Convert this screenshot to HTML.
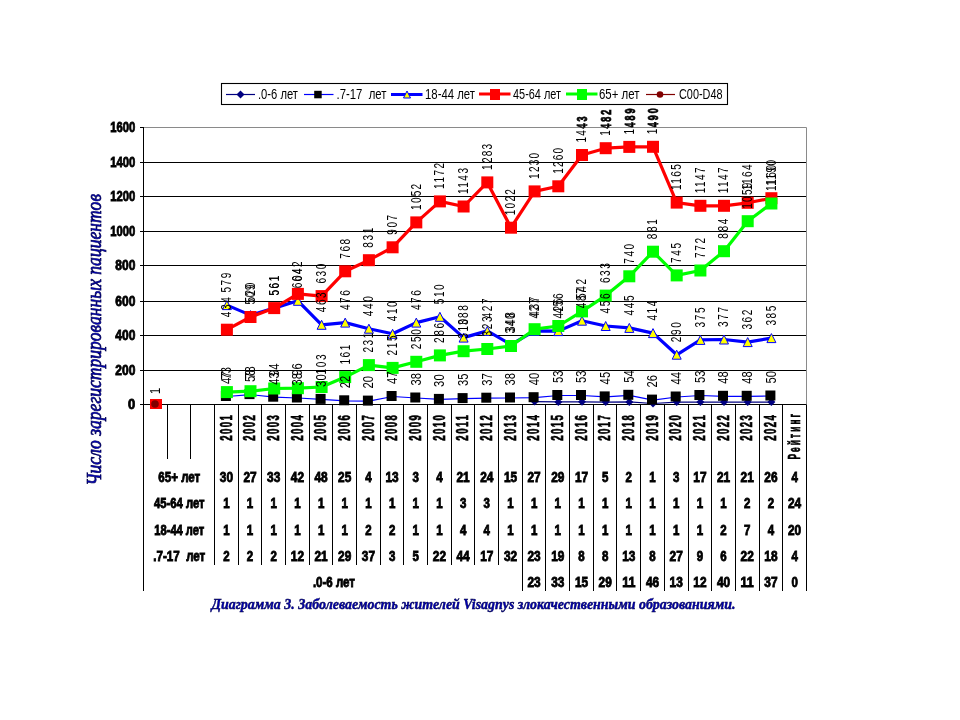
<!DOCTYPE html>
<html lang="ru"><head><meta charset="utf-8"><title>Диаграмма 3</title>
<style>html,body{margin:0;padding:0;background:#fff;width:960px;height:720px;overflow:hidden}svg{display:block}</style>
</head><body>
<svg width="960" height="720" viewBox="0 0 960 720">
<defs>
<clipPath id="plotclip"><rect x="0" y="127.5" width="960" height="600"/></clipPath>
<clipPath id="outclip"><rect x="0" y="0" width="960" height="127.5"/></clipPath>
</defs>
<rect width="960" height="720" fill="#fff"/>
<line x1="140" y1="404.5" x2="806.5" y2="404.5" stroke="#000" stroke-width="1"/>
<line x1="140" y1="370.5" x2="806.5" y2="370.5" stroke="#000" stroke-width="1"/>
<line x1="140" y1="335.5" x2="806.5" y2="335.5" stroke="#000" stroke-width="1"/>
<line x1="140" y1="301.5" x2="806.5" y2="301.5" stroke="#000" stroke-width="1"/>
<line x1="140" y1="265.5" x2="806.5" y2="265.5" stroke="#000" stroke-width="1"/>
<line x1="140" y1="231.5" x2="806.5" y2="231.5" stroke="#000" stroke-width="1"/>
<line x1="140" y1="196.5" x2="806.5" y2="196.5" stroke="#000" stroke-width="1"/>
<line x1="140" y1="162.5" x2="806.5" y2="162.5" stroke="#000" stroke-width="1"/>
<line x1="143" y1="127.5" x2="806.5" y2="127.5" stroke="#8a8a8a" stroke-width="1"/>
<line x1="140" y1="127.5" x2="143" y2="127.5" stroke="#000" stroke-width="1"/>
<line x1="806.5" y1="127.5" x2="806.5" y2="404" stroke="#8a8a8a" stroke-width="1"/>
<line x1="143.5" y1="127" x2="143.5" y2="591" stroke="#000" stroke-width="1"/>
<line x1="167.5" y1="404.5" x2="167.5" y2="459" stroke="#000" stroke-width="1"/>
<line x1="190.5" y1="404.5" x2="190.5" y2="459" stroke="#000" stroke-width="1"/>
<line x1="214.5" y1="404.5" x2="214.5" y2="565" stroke="#000" stroke-width="1"/>
<line x1="238.5" y1="404.5" x2="238.5" y2="565" stroke="#000" stroke-width="1"/>
<line x1="261.5" y1="404.5" x2="261.5" y2="565" stroke="#000" stroke-width="1"/>
<line x1="285.5" y1="404.5" x2="285.5" y2="565" stroke="#000" stroke-width="1"/>
<line x1="309.5" y1="404.5" x2="309.5" y2="565" stroke="#000" stroke-width="1"/>
<line x1="332.5" y1="404.5" x2="332.5" y2="565" stroke="#000" stroke-width="1"/>
<line x1="356.5" y1="404.5" x2="356.5" y2="565" stroke="#000" stroke-width="1"/>
<line x1="380.5" y1="404.5" x2="380.5" y2="565" stroke="#000" stroke-width="1"/>
<line x1="403.5" y1="404.5" x2="403.5" y2="565" stroke="#000" stroke-width="1"/>
<line x1="427.5" y1="404.5" x2="427.5" y2="565" stroke="#000" stroke-width="1"/>
<line x1="451.5" y1="404.5" x2="451.5" y2="565" stroke="#000" stroke-width="1"/>
<line x1="474.5" y1="404.5" x2="474.5" y2="565" stroke="#000" stroke-width="1"/>
<line x1="498.5" y1="404.5" x2="498.5" y2="565" stroke="#000" stroke-width="1"/>
<line x1="522.5" y1="404.5" x2="522.5" y2="591" stroke="#000" stroke-width="1"/>
<line x1="545.5" y1="404.5" x2="545.5" y2="591" stroke="#000" stroke-width="1"/>
<line x1="569.5" y1="404.5" x2="569.5" y2="591" stroke="#000" stroke-width="1"/>
<line x1="593.5" y1="404.5" x2="593.5" y2="591" stroke="#000" stroke-width="1"/>
<line x1="616.5" y1="404.5" x2="616.5" y2="591" stroke="#000" stroke-width="1"/>
<line x1="640.5" y1="404.5" x2="640.5" y2="591" stroke="#000" stroke-width="1"/>
<line x1="664.5" y1="404.5" x2="664.5" y2="591" stroke="#000" stroke-width="1"/>
<line x1="688.5" y1="404.5" x2="688.5" y2="591" stroke="#000" stroke-width="1"/>
<line x1="711.5" y1="404.5" x2="711.5" y2="591" stroke="#000" stroke-width="1"/>
<line x1="735.5" y1="404.5" x2="735.5" y2="591" stroke="#000" stroke-width="1"/>
<line x1="759.5" y1="404.5" x2="759.5" y2="591" stroke="#000" stroke-width="1"/>
<line x1="782.5" y1="404.5" x2="782.5" y2="591" stroke="#000" stroke-width="1"/>
<line x1="806.5" y1="404.5" x2="806.5" y2="591" stroke="#000" stroke-width="1"/>
<text x="135.3" y="408.8" text-anchor="end" font-family="'Liberation Sans', Arial, sans-serif" font-weight="bold" font-size="14" stroke="#000" stroke-width="0.85" textLength="7.2" lengthAdjust="spacingAndGlyphs">0</text>
<text x="135.3" y="374.8" text-anchor="end" font-family="'Liberation Sans', Arial, sans-serif" font-weight="bold" font-size="14" stroke="#000" stroke-width="0.85" textLength="20" lengthAdjust="spacingAndGlyphs">200</text>
<text x="135.3" y="339.8" text-anchor="end" font-family="'Liberation Sans', Arial, sans-serif" font-weight="bold" font-size="14" stroke="#000" stroke-width="0.85" textLength="20" lengthAdjust="spacingAndGlyphs">400</text>
<text x="135.3" y="305.8" text-anchor="end" font-family="'Liberation Sans', Arial, sans-serif" font-weight="bold" font-size="14" stroke="#000" stroke-width="0.85" textLength="20" lengthAdjust="spacingAndGlyphs">600</text>
<text x="135.3" y="269.8" text-anchor="end" font-family="'Liberation Sans', Arial, sans-serif" font-weight="bold" font-size="14" stroke="#000" stroke-width="0.85" textLength="20" lengthAdjust="spacingAndGlyphs">800</text>
<text x="135.3" y="235.8" text-anchor="end" font-family="'Liberation Sans', Arial, sans-serif" font-weight="bold" font-size="14" stroke="#000" stroke-width="0.85" textLength="25" lengthAdjust="spacingAndGlyphs">1000</text>
<text x="135.3" y="200.8" text-anchor="end" font-family="'Liberation Sans', Arial, sans-serif" font-weight="bold" font-size="14" stroke="#000" stroke-width="0.85" textLength="25" lengthAdjust="spacingAndGlyphs">1200</text>
<text x="135.3" y="166.8" text-anchor="end" font-family="'Liberation Sans', Arial, sans-serif" font-weight="bold" font-size="14" stroke="#000" stroke-width="0.85" textLength="25" lengthAdjust="spacingAndGlyphs">1400</text>
<text x="135.3" y="131.8" text-anchor="end" font-family="'Liberation Sans', Arial, sans-serif" font-weight="bold" font-size="14" stroke="#000" stroke-width="0.85" textLength="25" lengthAdjust="spacingAndGlyphs">1600</text>
<text transform="translate(100.5,485.5) rotate(-90)" font-family="'Liberation Serif', 'Times New Roman', serif" font-style="italic" font-size="20.5" fill="#0000c0" stroke="#000050" stroke-width="0.7" textLength="291.5" lengthAdjust="spacingAndGlyphs">Число зарегистрированных пациентов</text>
<polyline points="534.6,401.6 558.3,401.9 582.0,401.8 605.7,402.1 629.3,401.9 653.0,403.5 676.7,402.1 700.4,402.1 724.0,402.1 747.7,402.1 771.4,402.1" fill="none" stroke="#000080" stroke-width="1.2" stroke-linejoin="round"/>
<polygon points="534.6,397.6 538.6,401.6 534.6,405.6 530.6,401.6" fill="#000080"/>
<polygon points="558.3,397.9 562.3,401.9 558.3,405.9 554.3,401.9" fill="#000080"/>
<polygon points="582.0,397.8 586.0,401.8 582.0,405.8 578.0,401.8" fill="#000080"/>
<polygon points="605.7,398.1 609.7,402.1 605.7,406.1 601.7,402.1" fill="#000080"/>
<polygon points="629.3,397.9 633.3,401.9 629.3,405.9 625.3,401.9" fill="#000080"/>
<polygon points="653.0,399.5 657.0,403.5 653.0,407.5 649.0,403.5" fill="#000080"/>
<polygon points="676.7,398.1 680.7,402.1 676.7,406.1 672.7,402.1" fill="#000080"/>
<polygon points="700.4,398.1 704.4,402.1 700.4,406.1 696.4,402.1" fill="#000080"/>
<polygon points="724.0,398.1 728.0,402.1 724.0,406.1 720.0,402.1" fill="#000080"/>
<polygon points="747.7,398.1 751.7,402.1 747.7,406.1 743.7,402.1" fill="#000080"/>
<polygon points="771.4,398.1 775.4,402.1 771.4,406.1 767.4,402.1" fill="#000080"/>
<polyline points="226.9,396.5 250.5,394.6 274.2,397.2 297.9,398.0 321.6,399.4 345.2,400.8 368.9,401.1 392.6,396.5 416.3,398.0 439.9,399.4 463.6,398.6 487.3,398.2 511.0,398.0 534.6,397.7 558.3,395.5 582.0,395.5 605.7,396.9 629.3,395.3 653.0,400.1 676.7,397.0 700.4,395.5 724.0,396.3 747.7,396.3 771.4,396.0" fill="none" stroke="#0000ff" stroke-width="1.2" stroke-linejoin="round"/>
<rect x="220.9" y="391.0" width="10" height="10" fill="#000"/>
<rect x="244.5" y="389.1" width="10" height="10" fill="#000"/>
<rect x="268.2" y="391.7" width="10" height="10" fill="#000"/>
<rect x="291.9" y="392.5" width="10" height="10" fill="#000"/>
<rect x="315.6" y="393.9" width="10" height="10" fill="#000"/>
<rect x="339.2" y="395.3" width="10" height="10" fill="#000"/>
<rect x="362.9" y="395.6" width="10" height="10" fill="#000"/>
<rect x="386.6" y="391.0" width="10" height="10" fill="#000"/>
<rect x="410.3" y="392.5" width="10" height="10" fill="#000"/>
<rect x="433.9" y="393.9" width="10" height="10" fill="#000"/>
<rect x="457.6" y="393.1" width="10" height="10" fill="#000"/>
<rect x="481.3" y="392.7" width="10" height="10" fill="#000"/>
<rect x="505.0" y="392.5" width="10" height="10" fill="#000"/>
<rect x="528.6" y="392.2" width="10" height="10" fill="#000"/>
<rect x="552.3" y="390.0" width="10" height="10" fill="#000"/>
<rect x="576.0" y="390.0" width="10" height="10" fill="#000"/>
<rect x="599.7" y="391.4" width="10" height="10" fill="#000"/>
<rect x="623.3" y="389.8" width="10" height="10" fill="#000"/>
<rect x="647.0" y="394.6" width="10" height="10" fill="#000"/>
<rect x="670.7" y="391.5" width="10" height="10" fill="#000"/>
<rect x="694.4" y="390.0" width="10" height="10" fill="#000"/>
<rect x="718.0" y="390.8" width="10" height="10" fill="#000"/>
<rect x="741.7" y="390.8" width="10" height="10" fill="#000"/>
<rect x="765.4" y="390.5" width="10" height="10" fill="#000"/>
<polyline points="226.9,305.1 250.5,315.1 274.2,308.1 297.9,300.8 321.6,324.8 345.2,322.6 368.9,328.7 392.6,333.8 416.3,322.6 439.9,316.8 463.6,337.6 487.3,330.9 511.0,344.6 534.6,330.9 558.3,331.1 582.0,320.7 605.7,326.0 629.3,327.9 653.0,333.1 676.7,354.8 700.4,339.9 724.0,339.5 747.7,342.1 771.4,338.1" fill="none" stroke="#0000ff" stroke-width="3.2" stroke-linejoin="round"/>
<polygon points="226.9,300.6 231.4,309.6 222.4,309.6" fill="#ffff00" stroke="#0000ff" stroke-width="1"/>
<polygon points="250.5,310.6 255.0,319.6 246.0,319.6" fill="#ffff00" stroke="#0000ff" stroke-width="1"/>
<polygon points="274.2,303.6 278.7,312.6 269.7,312.6" fill="#ffff00" stroke="#0000ff" stroke-width="1"/>
<polygon points="297.9,296.3 302.4,305.3 293.4,305.3" fill="#ffff00" stroke="#0000ff" stroke-width="1"/>
<polygon points="321.6,320.3 326.1,329.3 317.1,329.3" fill="#ffff00" stroke="#0000ff" stroke-width="1"/>
<polygon points="345.2,318.1 349.7,327.1 340.7,327.1" fill="#ffff00" stroke="#0000ff" stroke-width="1"/>
<polygon points="368.9,324.2 373.4,333.2 364.4,333.2" fill="#ffff00" stroke="#0000ff" stroke-width="1"/>
<polygon points="392.6,329.3 397.1,338.3 388.1,338.3" fill="#ffff00" stroke="#0000ff" stroke-width="1"/>
<polygon points="416.3,318.1 420.8,327.1 411.8,327.1" fill="#ffff00" stroke="#0000ff" stroke-width="1"/>
<polygon points="439.9,312.3 444.4,321.3 435.4,321.3" fill="#ffff00" stroke="#0000ff" stroke-width="1"/>
<polygon points="463.6,333.1 468.1,342.1 459.1,342.1" fill="#ffff00" stroke="#0000ff" stroke-width="1"/>
<polygon points="487.3,326.4 491.8,335.4 482.8,335.4" fill="#ffff00" stroke="#0000ff" stroke-width="1"/>
<polygon points="511.0,340.1 515.5,349.1 506.5,349.1" fill="#ffff00" stroke="#0000ff" stroke-width="1"/>
<polygon points="534.6,326.4 539.1,335.4 530.1,335.4" fill="#ffff00" stroke="#0000ff" stroke-width="1"/>
<polygon points="558.3,326.6 562.8,335.6 553.8,335.6" fill="#ffff00" stroke="#0000ff" stroke-width="1"/>
<polygon points="582.0,316.2 586.5,325.2 577.5,325.2" fill="#ffff00" stroke="#0000ff" stroke-width="1"/>
<polygon points="605.7,321.5 610.2,330.5 601.2,330.5" fill="#ffff00" stroke="#0000ff" stroke-width="1"/>
<polygon points="629.3,323.4 633.8,332.4 624.8,332.4" fill="#ffff00" stroke="#0000ff" stroke-width="1"/>
<polygon points="653.0,328.6 657.5,337.6 648.5,337.6" fill="#ffff00" stroke="#0000ff" stroke-width="1"/>
<polygon points="676.7,350.2 681.2,359.2 672.2,359.2" fill="#ffff00" stroke="#0000ff" stroke-width="1"/>
<polygon points="700.4,335.4 704.9,344.4 695.9,344.4" fill="#ffff00" stroke="#0000ff" stroke-width="1"/>
<polygon points="724.0,335.0 728.5,344.0 719.5,344.0" fill="#ffff00" stroke="#0000ff" stroke-width="1"/>
<polygon points="747.7,337.6 752.2,346.6 743.2,346.6" fill="#ffff00" stroke="#0000ff" stroke-width="1"/>
<polygon points="771.4,333.6 775.9,342.6 766.9,342.6" fill="#ffff00" stroke="#0000ff" stroke-width="1"/>
<polyline points="226.9,329.7 250.5,317.0 274.2,308.1 297.9,293.9 321.6,296.1 345.2,271.3 368.9,260.2 392.6,247.3 416.3,222.4 439.9,201.4 463.6,206.5 487.3,182.4 511.0,227.7 534.6,191.4 558.3,186.3 582.0,155.0 605.7,148.2 629.3,146.9 653.0,146.8 676.7,202.6 700.4,205.8 724.0,205.8 747.7,202.8 771.4,198.2" fill="none" stroke="#ff0000" stroke-width="3.2" stroke-linejoin="round"/>
<rect x="220.9" y="323.7" width="12" height="12" fill="#ff0000"/>
<rect x="244.5" y="311.0" width="12" height="12" fill="#ff0000"/>
<rect x="268.2" y="302.1" width="12" height="12" fill="#ff0000"/>
<rect x="291.9" y="287.9" width="12" height="12" fill="#ff0000"/>
<rect x="315.6" y="290.1" width="12" height="12" fill="#ff0000"/>
<rect x="339.2" y="265.3" width="12" height="12" fill="#ff0000"/>
<rect x="362.9" y="254.2" width="12" height="12" fill="#ff0000"/>
<rect x="386.6" y="241.3" width="12" height="12" fill="#ff0000"/>
<rect x="410.3" y="216.4" width="12" height="12" fill="#ff0000"/>
<rect x="433.9" y="195.4" width="12" height="12" fill="#ff0000"/>
<rect x="457.6" y="200.5" width="12" height="12" fill="#ff0000"/>
<rect x="481.3" y="176.4" width="12" height="12" fill="#ff0000"/>
<rect x="505.0" y="221.7" width="12" height="12" fill="#ff0000"/>
<rect x="528.6" y="185.4" width="12" height="12" fill="#ff0000"/>
<rect x="552.3" y="180.3" width="12" height="12" fill="#ff0000"/>
<rect x="576.0" y="149.0" width="12" height="12" fill="#ff0000"/>
<rect x="599.7" y="142.2" width="12" height="12" fill="#ff0000"/>
<rect x="623.3" y="140.9" width="12" height="12" fill="#ff0000"/>
<rect x="647.0" y="140.8" width="12" height="12" fill="#ff0000"/>
<rect x="670.7" y="196.6" width="12" height="12" fill="#ff0000"/>
<rect x="694.4" y="199.8" width="12" height="12" fill="#ff0000"/>
<rect x="718.0" y="199.8" width="12" height="12" fill="#ff0000"/>
<rect x="741.7" y="196.8" width="12" height="12" fill="#ff0000"/>
<rect x="765.4" y="192.2" width="12" height="12" fill="#ff0000"/>
<rect x="150" y="399" width="12" height="10" fill="#ff0000"/>
<polyline points="226.9,392.1 250.5,391.2 274.2,388.5 297.9,388.2 321.6,387.0 345.2,377.1 368.9,365.1 392.6,367.9 416.3,361.8 439.9,355.4 463.6,351.2 487.3,349.0 511.0,346.0 534.6,329.2 558.3,326.0 582.0,311.4 605.7,295.6 629.3,276.3 653.0,251.7 676.7,275.4 700.4,270.5 724.0,251.2 747.7,221.2 771.4,203.5" fill="none" stroke="#00ff00" stroke-width="3.2" stroke-linejoin="round"/>
<rect x="220.9" y="386.1" width="12" height="12" fill="#00ff00"/>
<rect x="244.5" y="385.2" width="12" height="12" fill="#00ff00"/>
<rect x="268.2" y="382.5" width="12" height="12" fill="#00ff00"/>
<rect x="291.9" y="382.2" width="12" height="12" fill="#00ff00"/>
<rect x="315.6" y="381.0" width="12" height="12" fill="#00ff00"/>
<rect x="339.2" y="371.1" width="12" height="12" fill="#00ff00"/>
<rect x="362.9" y="359.1" width="12" height="12" fill="#00ff00"/>
<rect x="386.6" y="361.9" width="12" height="12" fill="#00ff00"/>
<rect x="410.3" y="355.8" width="12" height="12" fill="#00ff00"/>
<rect x="433.9" y="349.4" width="12" height="12" fill="#00ff00"/>
<rect x="457.6" y="345.2" width="12" height="12" fill="#00ff00"/>
<rect x="481.3" y="343.0" width="12" height="12" fill="#00ff00"/>
<rect x="505.0" y="340.0" width="12" height="12" fill="#00ff00"/>
<rect x="528.6" y="323.2" width="12" height="12" fill="#00ff00"/>
<rect x="552.3" y="320.0" width="12" height="12" fill="#00ff00"/>
<rect x="576.0" y="305.4" width="12" height="12" fill="#00ff00"/>
<rect x="599.7" y="289.6" width="12" height="12" fill="#00ff00"/>
<rect x="623.3" y="270.3" width="12" height="12" fill="#00ff00"/>
<rect x="647.0" y="245.7" width="12" height="12" fill="#00ff00"/>
<rect x="670.7" y="269.4" width="12" height="12" fill="#00ff00"/>
<rect x="694.4" y="264.5" width="12" height="12" fill="#00ff00"/>
<rect x="718.0" y="245.2" width="12" height="12" fill="#00ff00"/>
<rect x="741.7" y="215.2" width="12" height="12" fill="#00ff00"/>
<rect x="765.4" y="197.5" width="12" height="12" fill="#00ff00"/>
<circle cx="155" cy="404" r="3.8" fill="#800000"/>
<g clip-path="url(#plotclip)"><text transform="translate(231.3,384.0) rotate(-90) scale(0.8,1)" font-family="'Liberation Sans', Arial, sans-serif" font-size="14" textLength="15.7" lengthAdjust="spacing">47</text><text transform="translate(254.9,382.1) rotate(-90) scale(0.8,1)" font-family="'Liberation Sans', Arial, sans-serif" font-size="14" textLength="15.7" lengthAdjust="spacing">58</text><text transform="translate(278.6,384.7) rotate(-90) scale(0.8,1)" font-family="'Liberation Sans', Arial, sans-serif" font-size="14" textLength="15.7" lengthAdjust="spacing">43</text><text transform="translate(302.3,385.5) rotate(-90) scale(0.8,1)" font-family="'Liberation Sans', Arial, sans-serif" font-size="14" textLength="15.7" lengthAdjust="spacing">38</text><text transform="translate(326.0,386.9) rotate(-90) scale(0.8,1)" font-family="'Liberation Sans', Arial, sans-serif" font-size="14" textLength="15.7" lengthAdjust="spacing">30</text><text transform="translate(349.6,388.3) rotate(-90) scale(0.8,1)" font-family="'Liberation Sans', Arial, sans-serif" font-size="14" textLength="15.7" lengthAdjust="spacing">22</text><text transform="translate(373.3,388.6) rotate(-90) scale(0.8,1)" font-family="'Liberation Sans', Arial, sans-serif" font-size="14" textLength="15.7" lengthAdjust="spacing">20</text><text transform="translate(397.0,384.0) rotate(-90) scale(0.8,1)" font-family="'Liberation Sans', Arial, sans-serif" font-size="14" textLength="15.7" lengthAdjust="spacing">47</text><text transform="translate(420.7,385.5) rotate(-90) scale(0.8,1)" font-family="'Liberation Sans', Arial, sans-serif" font-size="14" textLength="15.7" lengthAdjust="spacing">38</text><text transform="translate(444.3,386.9) rotate(-90) scale(0.8,1)" font-family="'Liberation Sans', Arial, sans-serif" font-size="14" textLength="15.7" lengthAdjust="spacing">30</text><text transform="translate(468.0,386.1) rotate(-90) scale(0.8,1)" font-family="'Liberation Sans', Arial, sans-serif" font-size="14" textLength="15.7" lengthAdjust="spacing">35</text><text transform="translate(491.7,385.7) rotate(-90) scale(0.8,1)" font-family="'Liberation Sans', Arial, sans-serif" font-size="14" textLength="15.7" lengthAdjust="spacing">37</text><text transform="translate(515.4,385.5) rotate(-90) scale(0.8,1)" font-family="'Liberation Sans', Arial, sans-serif" font-size="14" textLength="15.7" lengthAdjust="spacing">38</text><text transform="translate(539.0,385.2) rotate(-90) scale(0.8,1)" font-family="'Liberation Sans', Arial, sans-serif" font-size="14" textLength="15.7" lengthAdjust="spacing">40</text><text transform="translate(562.7,383.0) rotate(-90) scale(0.8,1)" font-family="'Liberation Sans', Arial, sans-serif" font-size="14" textLength="15.7" lengthAdjust="spacing">53</text><text transform="translate(586.4,383.0) rotate(-90) scale(0.8,1)" font-family="'Liberation Sans', Arial, sans-serif" font-size="14" textLength="15.7" lengthAdjust="spacing">53</text><text transform="translate(610.1,384.4) rotate(-90) scale(0.8,1)" font-family="'Liberation Sans', Arial, sans-serif" font-size="14" textLength="15.7" lengthAdjust="spacing">45</text><text transform="translate(633.7,382.8) rotate(-90) scale(0.8,1)" font-family="'Liberation Sans', Arial, sans-serif" font-size="14" textLength="15.7" lengthAdjust="spacing">54</text><text transform="translate(657.4,387.6) rotate(-90) scale(0.8,1)" font-family="'Liberation Sans', Arial, sans-serif" font-size="14" textLength="15.7" lengthAdjust="spacing">26</text><text transform="translate(681.1,384.5) rotate(-90) scale(0.8,1)" font-family="'Liberation Sans', Arial, sans-serif" font-size="14" textLength="15.7" lengthAdjust="spacing">44</text><text transform="translate(704.8,383.0) rotate(-90) scale(0.8,1)" font-family="'Liberation Sans', Arial, sans-serif" font-size="14" textLength="15.7" lengthAdjust="spacing">53</text><text transform="translate(728.4,383.8) rotate(-90) scale(0.8,1)" font-family="'Liberation Sans', Arial, sans-serif" font-size="14" textLength="15.7" lengthAdjust="spacing">48</text><text transform="translate(752.1,383.8) rotate(-90) scale(0.8,1)" font-family="'Liberation Sans', Arial, sans-serif" font-size="14" textLength="15.7" lengthAdjust="spacing">48</text><text transform="translate(775.8,383.5) rotate(-90) scale(0.8,1)" font-family="'Liberation Sans', Arial, sans-serif" font-size="14" textLength="15.7" lengthAdjust="spacing">50</text><text transform="translate(231.3,379.6) rotate(-90) scale(0.8,1)" font-family="'Liberation Sans', Arial, sans-serif" font-size="14" textLength="15.7" lengthAdjust="spacing">73</text><text transform="translate(254.9,378.7) rotate(-90) scale(0.8,1)" font-family="'Liberation Sans', Arial, sans-serif" font-size="14" textLength="15.7" lengthAdjust="spacing">78</text><text transform="translate(278.6,376.0) rotate(-90) scale(0.8,1)" font-family="'Liberation Sans', Arial, sans-serif" font-size="14" textLength="15.7" lengthAdjust="spacing">94</text><text transform="translate(302.3,375.7) rotate(-90) scale(0.8,1)" font-family="'Liberation Sans', Arial, sans-serif" font-size="14" textLength="15.7" lengthAdjust="spacing">96</text><text transform="translate(326.0,374.5) rotate(-90) scale(0.72,1)" font-family="'Liberation Sans', Arial, sans-serif" font-size="14" textLength="27.8" lengthAdjust="spacing">103</text><text transform="translate(349.6,364.6) rotate(-90) scale(0.72,1)" font-family="'Liberation Sans', Arial, sans-serif" font-size="14" textLength="27.8" lengthAdjust="spacing">161</text><text transform="translate(373.3,352.6) rotate(-90) scale(0.72,1)" font-family="'Liberation Sans', Arial, sans-serif" font-size="14" textLength="27.8" lengthAdjust="spacing">231</text><text transform="translate(397.0,355.4) rotate(-90) scale(0.72,1)" font-family="'Liberation Sans', Arial, sans-serif" font-size="14" textLength="27.8" lengthAdjust="spacing">215</text><text transform="translate(420.7,349.2) rotate(-90) scale(0.72,1)" font-family="'Liberation Sans', Arial, sans-serif" font-size="14" textLength="27.8" lengthAdjust="spacing">250</text><text transform="translate(444.3,342.9) rotate(-90) scale(0.72,1)" font-family="'Liberation Sans', Arial, sans-serif" font-size="14" textLength="27.8" lengthAdjust="spacing">286</text><text transform="translate(468.0,338.8) rotate(-90) scale(0.72,1)" font-family="'Liberation Sans', Arial, sans-serif" font-size="14" textLength="27.8" lengthAdjust="spacing">310</text><text transform="translate(491.7,336.5) rotate(-90) scale(0.72,1)" font-family="'Liberation Sans', Arial, sans-serif" font-size="14" textLength="27.8" lengthAdjust="spacing">323</text><text transform="translate(515.4,333.5) rotate(-90) scale(0.72,1)" font-family="'Liberation Sans', Arial, sans-serif" font-size="14" textLength="27.8" lengthAdjust="spacing">340</text><text transform="translate(539.0,316.7) rotate(-90) scale(0.72,1)" font-family="'Liberation Sans', Arial, sans-serif" font-size="14" textLength="27.8" lengthAdjust="spacing">437</text><text transform="translate(562.7,313.5) rotate(-90) scale(0.72,1)" font-family="'Liberation Sans', Arial, sans-serif" font-size="14" textLength="27.8" lengthAdjust="spacing">456</text><text transform="translate(586.4,298.9) rotate(-90) scale(0.72,1)" font-family="'Liberation Sans', Arial, sans-serif" font-size="14" textLength="27.8" lengthAdjust="spacing">542</text><text transform="translate(610.1,283.1) rotate(-90) scale(0.72,1)" font-family="'Liberation Sans', Arial, sans-serif" font-size="14" textLength="27.8" lengthAdjust="spacing">633</text><text transform="translate(633.7,263.8) rotate(-90) scale(0.72,1)" font-family="'Liberation Sans', Arial, sans-serif" font-size="14" textLength="27.8" lengthAdjust="spacing">740</text><text transform="translate(657.4,239.2) rotate(-90) scale(0.72,1)" font-family="'Liberation Sans', Arial, sans-serif" font-size="14" textLength="27.8" lengthAdjust="spacing">881</text><text transform="translate(681.1,262.9) rotate(-90) scale(0.72,1)" font-family="'Liberation Sans', Arial, sans-serif" font-size="14" textLength="27.8" lengthAdjust="spacing">745</text><text transform="translate(704.8,258.0) rotate(-90) scale(0.72,1)" font-family="'Liberation Sans', Arial, sans-serif" font-size="14" textLength="27.8" lengthAdjust="spacing">772</text><text transform="translate(728.4,238.7) rotate(-90) scale(0.72,1)" font-family="'Liberation Sans', Arial, sans-serif" font-size="14" textLength="27.8" lengthAdjust="spacing">884</text><text transform="translate(752.1,208.7) rotate(-90) scale(0.72,1)" font-family="'Liberation Sans', Arial, sans-serif" font-size="14" textLength="36.1" lengthAdjust="spacing">1059</text><text transform="translate(775.8,191.0) rotate(-90) scale(0.72,1)" font-family="'Liberation Sans', Arial, sans-serif" font-size="14" textLength="36.1" lengthAdjust="spacing">1160</text><text transform="translate(231.3,292.6) rotate(-90) scale(0.72,1)" font-family="'Liberation Sans', Arial, sans-serif" font-size="14" textLength="27.8" lengthAdjust="spacing">579</text><text transform="translate(254.9,302.6) rotate(-90) scale(0.72,1)" font-family="'Liberation Sans', Arial, sans-serif" font-size="14" textLength="27.8" lengthAdjust="spacing">520</text><text transform="translate(278.6,295.6) rotate(-90) scale(0.72,1)" font-family="'Liberation Sans', Arial, sans-serif" font-size="14" textLength="27.8" lengthAdjust="spacing">561</text><text transform="translate(302.3,288.3) rotate(-90) scale(0.72,1)" font-family="'Liberation Sans', Arial, sans-serif" font-size="14" textLength="27.8" lengthAdjust="spacing">604</text><text transform="translate(326.0,312.3) rotate(-90) scale(0.72,1)" font-family="'Liberation Sans', Arial, sans-serif" font-size="14" textLength="27.8" lengthAdjust="spacing">463</text><text transform="translate(349.6,310.1) rotate(-90) scale(0.72,1)" font-family="'Liberation Sans', Arial, sans-serif" font-size="14" textLength="27.8" lengthAdjust="spacing">476</text><text transform="translate(373.3,316.2) rotate(-90) scale(0.72,1)" font-family="'Liberation Sans', Arial, sans-serif" font-size="14" textLength="27.8" lengthAdjust="spacing">440</text><text transform="translate(397.0,321.3) rotate(-90) scale(0.72,1)" font-family="'Liberation Sans', Arial, sans-serif" font-size="14" textLength="27.8" lengthAdjust="spacing">410</text><text transform="translate(420.7,310.1) rotate(-90) scale(0.72,1)" font-family="'Liberation Sans', Arial, sans-serif" font-size="14" textLength="27.8" lengthAdjust="spacing">476</text><text transform="translate(444.3,304.3) rotate(-90) scale(0.72,1)" font-family="'Liberation Sans', Arial, sans-serif" font-size="14" textLength="27.8" lengthAdjust="spacing">510</text><text transform="translate(468.0,325.1) rotate(-90) scale(0.72,1)" font-family="'Liberation Sans', Arial, sans-serif" font-size="14" textLength="27.8" lengthAdjust="spacing">388</text><text transform="translate(491.7,318.4) rotate(-90) scale(0.72,1)" font-family="'Liberation Sans', Arial, sans-serif" font-size="14" textLength="27.8" lengthAdjust="spacing">427</text><text transform="translate(515.4,332.1) rotate(-90) scale(0.72,1)" font-family="'Liberation Sans', Arial, sans-serif" font-size="14" textLength="27.8" lengthAdjust="spacing">348</text><text transform="translate(539.0,318.4) rotate(-90) scale(0.72,1)" font-family="'Liberation Sans', Arial, sans-serif" font-size="14" textLength="27.8" lengthAdjust="spacing">427</text><text transform="translate(562.7,318.6) rotate(-90) scale(0.72,1)" font-family="'Liberation Sans', Arial, sans-serif" font-size="14" textLength="27.8" lengthAdjust="spacing">426</text><text transform="translate(586.4,308.2) rotate(-90) scale(0.72,1)" font-family="'Liberation Sans', Arial, sans-serif" font-size="14" textLength="27.8" lengthAdjust="spacing">487</text><text transform="translate(610.1,313.5) rotate(-90) scale(0.72,1)" font-family="'Liberation Sans', Arial, sans-serif" font-size="14" textLength="27.8" lengthAdjust="spacing">456</text><text transform="translate(633.7,315.4) rotate(-90) scale(0.72,1)" font-family="'Liberation Sans', Arial, sans-serif" font-size="14" textLength="27.8" lengthAdjust="spacing">445</text><text transform="translate(657.4,320.6) rotate(-90) scale(0.72,1)" font-family="'Liberation Sans', Arial, sans-serif" font-size="14" textLength="27.8" lengthAdjust="spacing">414</text><text transform="translate(681.1,342.2) rotate(-90) scale(0.72,1)" font-family="'Liberation Sans', Arial, sans-serif" font-size="14" textLength="27.8" lengthAdjust="spacing">290</text><text transform="translate(704.8,327.4) rotate(-90) scale(0.72,1)" font-family="'Liberation Sans', Arial, sans-serif" font-size="14" textLength="27.8" lengthAdjust="spacing">375</text><text transform="translate(728.4,327.0) rotate(-90) scale(0.72,1)" font-family="'Liberation Sans', Arial, sans-serif" font-size="14" textLength="27.8" lengthAdjust="spacing">377</text><text transform="translate(752.1,329.6) rotate(-90) scale(0.72,1)" font-family="'Liberation Sans', Arial, sans-serif" font-size="14" textLength="27.8" lengthAdjust="spacing">362</text><text transform="translate(775.8,325.6) rotate(-90) scale(0.72,1)" font-family="'Liberation Sans', Arial, sans-serif" font-size="14" textLength="27.8" lengthAdjust="spacing">385</text><text transform="translate(231.3,317.2) rotate(-90) scale(0.72,1)" font-family="'Liberation Sans', Arial, sans-serif" font-size="14" textLength="27.8" lengthAdjust="spacing">434</text><text transform="translate(254.9,304.5) rotate(-90) scale(0.72,1)" font-family="'Liberation Sans', Arial, sans-serif" font-size="14" textLength="27.8" lengthAdjust="spacing">509</text><text transform="translate(278.6,295.6) rotate(-90) scale(0.72,1)" font-family="'Liberation Sans', Arial, sans-serif" font-size="14" textLength="27.8" lengthAdjust="spacing">561</text><text transform="translate(302.3,281.4) rotate(-90) scale(0.72,1)" font-family="'Liberation Sans', Arial, sans-serif" font-size="14" textLength="27.8" lengthAdjust="spacing">642</text><text transform="translate(326.0,283.6) rotate(-90) scale(0.72,1)" font-family="'Liberation Sans', Arial, sans-serif" font-size="14" textLength="27.8" lengthAdjust="spacing">630</text><text transform="translate(349.6,258.8) rotate(-90) scale(0.72,1)" font-family="'Liberation Sans', Arial, sans-serif" font-size="14" textLength="27.8" lengthAdjust="spacing">768</text><text transform="translate(373.3,247.7) rotate(-90) scale(0.72,1)" font-family="'Liberation Sans', Arial, sans-serif" font-size="14" textLength="27.8" lengthAdjust="spacing">831</text><text transform="translate(397.0,234.8) rotate(-90) scale(0.72,1)" font-family="'Liberation Sans', Arial, sans-serif" font-size="14" textLength="27.8" lengthAdjust="spacing">907</text><text transform="translate(420.7,209.9) rotate(-90) scale(0.72,1)" font-family="'Liberation Sans', Arial, sans-serif" font-size="14" textLength="36.1" lengthAdjust="spacing">1052</text><text transform="translate(444.3,188.9) rotate(-90) scale(0.72,1)" font-family="'Liberation Sans', Arial, sans-serif" font-size="14" textLength="36.1" lengthAdjust="spacing">1172</text><text transform="translate(468.0,194.0) rotate(-90) scale(0.72,1)" font-family="'Liberation Sans', Arial, sans-serif" font-size="14" textLength="36.1" lengthAdjust="spacing">1143</text><text transform="translate(491.7,169.9) rotate(-90) scale(0.72,1)" font-family="'Liberation Sans', Arial, sans-serif" font-size="14" textLength="36.1" lengthAdjust="spacing">1283</text><text transform="translate(515.4,215.2) rotate(-90) scale(0.72,1)" font-family="'Liberation Sans', Arial, sans-serif" font-size="14" textLength="36.1" lengthAdjust="spacing">1022</text><text transform="translate(539.0,178.9) rotate(-90) scale(0.72,1)" font-family="'Liberation Sans', Arial, sans-serif" font-size="14" textLength="36.1" lengthAdjust="spacing">1230</text><text transform="translate(562.7,173.8) rotate(-90) scale(0.72,1)" font-family="'Liberation Sans', Arial, sans-serif" font-size="14" textLength="36.1" lengthAdjust="spacing">1260</text><text transform="translate(586.4,142.5) rotate(-90) scale(0.72,1)" font-family="'Liberation Sans', Arial, sans-serif" font-size="14" textLength="36.1" lengthAdjust="spacing">1443</text><text transform="translate(610.1,135.7) rotate(-90) scale(0.72,1)" font-family="'Liberation Sans', Arial, sans-serif" font-size="14" textLength="36.1" lengthAdjust="spacing">1482</text><text transform="translate(633.7,134.4) rotate(-90) scale(0.72,1)" font-family="'Liberation Sans', Arial, sans-serif" font-size="14" textLength="36.1" lengthAdjust="spacing">1489</text><text transform="translate(657.4,134.2) rotate(-90) scale(0.72,1)" font-family="'Liberation Sans', Arial, sans-serif" font-size="14" textLength="36.1" lengthAdjust="spacing">1490</text><text transform="translate(681.1,190.1) rotate(-90) scale(0.72,1)" font-family="'Liberation Sans', Arial, sans-serif" font-size="14" textLength="36.1" lengthAdjust="spacing">1165</text><text transform="translate(704.8,193.3) rotate(-90) scale(0.72,1)" font-family="'Liberation Sans', Arial, sans-serif" font-size="14" textLength="36.1" lengthAdjust="spacing">1147</text><text transform="translate(728.4,193.3) rotate(-90) scale(0.72,1)" font-family="'Liberation Sans', Arial, sans-serif" font-size="14" textLength="36.1" lengthAdjust="spacing">1147</text><text transform="translate(752.1,190.3) rotate(-90) scale(0.72,1)" font-family="'Liberation Sans', Arial, sans-serif" font-size="14" textLength="36.1" lengthAdjust="spacing">1164</text><text transform="translate(775.8,185.8) rotate(-90) scale(0.72,1)" font-family="'Liberation Sans', Arial, sans-serif" font-size="14" textLength="36.1" lengthAdjust="spacing">1190</text></g>
<g clip-path="url(#outclip)"><text transform="translate(232.1,317.2) rotate(-90) scale(0.6,1)" font-family="'Liberation Sans', Arial, sans-serif" font-size="15" font-weight="bold" stroke="#000" stroke-width="0.8" textLength="33.3" lengthAdjust="spacing">434</text><text transform="translate(255.7,304.5) rotate(-90) scale(0.6,1)" font-family="'Liberation Sans', Arial, sans-serif" font-size="15" font-weight="bold" stroke="#000" stroke-width="0.8" textLength="33.3" lengthAdjust="spacing">509</text><text transform="translate(279.4,295.6) rotate(-90) scale(0.6,1)" font-family="'Liberation Sans', Arial, sans-serif" font-size="15" font-weight="bold" stroke="#000" stroke-width="0.8" textLength="33.3" lengthAdjust="spacing">561</text><text transform="translate(303.1,281.4) rotate(-90) scale(0.6,1)" font-family="'Liberation Sans', Arial, sans-serif" font-size="15" font-weight="bold" stroke="#000" stroke-width="0.8" textLength="33.3" lengthAdjust="spacing">642</text><text transform="translate(326.8,283.6) rotate(-90) scale(0.6,1)" font-family="'Liberation Sans', Arial, sans-serif" font-size="15" font-weight="bold" stroke="#000" stroke-width="0.8" textLength="33.3" lengthAdjust="spacing">630</text><text transform="translate(350.4,258.8) rotate(-90) scale(0.6,1)" font-family="'Liberation Sans', Arial, sans-serif" font-size="15" font-weight="bold" stroke="#000" stroke-width="0.8" textLength="33.3" lengthAdjust="spacing">768</text><text transform="translate(374.1,247.7) rotate(-90) scale(0.6,1)" font-family="'Liberation Sans', Arial, sans-serif" font-size="15" font-weight="bold" stroke="#000" stroke-width="0.8" textLength="33.3" lengthAdjust="spacing">831</text><text transform="translate(397.8,234.8) rotate(-90) scale(0.6,1)" font-family="'Liberation Sans', Arial, sans-serif" font-size="15" font-weight="bold" stroke="#000" stroke-width="0.8" textLength="33.3" lengthAdjust="spacing">907</text><text transform="translate(421.5,209.9) rotate(-90) scale(0.6,1)" font-family="'Liberation Sans', Arial, sans-serif" font-size="15" font-weight="bold" stroke="#000" stroke-width="0.8" textLength="43.3" lengthAdjust="spacing">1052</text><text transform="translate(445.1,188.9) rotate(-90) scale(0.6,1)" font-family="'Liberation Sans', Arial, sans-serif" font-size="15" font-weight="bold" stroke="#000" stroke-width="0.8" textLength="43.3" lengthAdjust="spacing">1172</text><text transform="translate(468.8,194.0) rotate(-90) scale(0.6,1)" font-family="'Liberation Sans', Arial, sans-serif" font-size="15" font-weight="bold" stroke="#000" stroke-width="0.8" textLength="43.3" lengthAdjust="spacing">1143</text><text transform="translate(492.5,169.9) rotate(-90) scale(0.6,1)" font-family="'Liberation Sans', Arial, sans-serif" font-size="15" font-weight="bold" stroke="#000" stroke-width="0.8" textLength="43.3" lengthAdjust="spacing">1283</text><text transform="translate(516.2,215.2) rotate(-90) scale(0.6,1)" font-family="'Liberation Sans', Arial, sans-serif" font-size="15" font-weight="bold" stroke="#000" stroke-width="0.8" textLength="43.3" lengthAdjust="spacing">1022</text><text transform="translate(539.8,178.9) rotate(-90) scale(0.6,1)" font-family="'Liberation Sans', Arial, sans-serif" font-size="15" font-weight="bold" stroke="#000" stroke-width="0.8" textLength="43.3" lengthAdjust="spacing">1230</text><text transform="translate(563.5,173.8) rotate(-90) scale(0.6,1)" font-family="'Liberation Sans', Arial, sans-serif" font-size="15" font-weight="bold" stroke="#000" stroke-width="0.8" textLength="43.3" lengthAdjust="spacing">1260</text><text transform="translate(587.2,142.5) rotate(-90) scale(0.6,1)" font-family="'Liberation Sans', Arial, sans-serif" font-size="15" font-weight="bold" stroke="#000" stroke-width="0.8" textLength="43.3" lengthAdjust="spacing">1443</text><text transform="translate(610.9,135.7) rotate(-90) scale(0.6,1)" font-family="'Liberation Sans', Arial, sans-serif" font-size="15" font-weight="bold" stroke="#000" stroke-width="0.8" textLength="43.3" lengthAdjust="spacing">1482</text><text transform="translate(634.5,134.4) rotate(-90) scale(0.6,1)" font-family="'Liberation Sans', Arial, sans-serif" font-size="15" font-weight="bold" stroke="#000" stroke-width="0.8" textLength="43.3" lengthAdjust="spacing">1489</text><text transform="translate(658.2,134.2) rotate(-90) scale(0.6,1)" font-family="'Liberation Sans', Arial, sans-serif" font-size="15" font-weight="bold" stroke="#000" stroke-width="0.8" textLength="43.3" lengthAdjust="spacing">1490</text><text transform="translate(681.9,190.1) rotate(-90) scale(0.6,1)" font-family="'Liberation Sans', Arial, sans-serif" font-size="15" font-weight="bold" stroke="#000" stroke-width="0.8" textLength="43.3" lengthAdjust="spacing">1165</text><text transform="translate(705.6,193.3) rotate(-90) scale(0.6,1)" font-family="'Liberation Sans', Arial, sans-serif" font-size="15" font-weight="bold" stroke="#000" stroke-width="0.8" textLength="43.3" lengthAdjust="spacing">1147</text><text transform="translate(729.2,193.3) rotate(-90) scale(0.6,1)" font-family="'Liberation Sans', Arial, sans-serif" font-size="15" font-weight="bold" stroke="#000" stroke-width="0.8" textLength="43.3" lengthAdjust="spacing">1147</text><text transform="translate(752.9,190.3) rotate(-90) scale(0.6,1)" font-family="'Liberation Sans', Arial, sans-serif" font-size="15" font-weight="bold" stroke="#000" stroke-width="0.8" textLength="43.3" lengthAdjust="spacing">1164</text><text transform="translate(776.6,185.8) rotate(-90) scale(0.6,1)" font-family="'Liberation Sans', Arial, sans-serif" font-size="15" font-weight="bold" stroke="#000" stroke-width="0.8" textLength="43.3" lengthAdjust="spacing">1190</text></g>
<text transform="translate(159.7,394.0) rotate(-90) scale(0.8,1)" font-family="'Liberation Sans', Arial, sans-serif" font-size="14" textLength="8.1" lengthAdjust="spacing">1</text>
<text transform="translate(231.5,415.2) rotate(-90) scale(0.6,1)" text-anchor="end" font-family="'Liberation Sans', Arial, sans-serif" font-weight="bold" font-size="16" stroke="#000" stroke-width="0.7" textLength="42.5" lengthAdjust="spacing">2001</text>
<text transform="translate(255.1,415.2) rotate(-90) scale(0.6,1)" text-anchor="end" font-family="'Liberation Sans', Arial, sans-serif" font-weight="bold" font-size="16" stroke="#000" stroke-width="0.7" textLength="42.5" lengthAdjust="spacing">2002</text>
<text transform="translate(278.8,415.2) rotate(-90) scale(0.6,1)" text-anchor="end" font-family="'Liberation Sans', Arial, sans-serif" font-weight="bold" font-size="16" stroke="#000" stroke-width="0.7" textLength="42.5" lengthAdjust="spacing">2003</text>
<text transform="translate(302.5,415.2) rotate(-90) scale(0.6,1)" text-anchor="end" font-family="'Liberation Sans', Arial, sans-serif" font-weight="bold" font-size="16" stroke="#000" stroke-width="0.7" textLength="42.5" lengthAdjust="spacing">2004</text>
<text transform="translate(326.2,415.2) rotate(-90) scale(0.6,1)" text-anchor="end" font-family="'Liberation Sans', Arial, sans-serif" font-weight="bold" font-size="16" stroke="#000" stroke-width="0.7" textLength="42.5" lengthAdjust="spacing">2005</text>
<text transform="translate(349.8,415.2) rotate(-90) scale(0.6,1)" text-anchor="end" font-family="'Liberation Sans', Arial, sans-serif" font-weight="bold" font-size="16" stroke="#000" stroke-width="0.7" textLength="42.5" lengthAdjust="spacing">2006</text>
<text transform="translate(373.5,415.2) rotate(-90) scale(0.6,1)" text-anchor="end" font-family="'Liberation Sans', Arial, sans-serif" font-weight="bold" font-size="16" stroke="#000" stroke-width="0.7" textLength="42.5" lengthAdjust="spacing">2007</text>
<text transform="translate(397.2,415.2) rotate(-90) scale(0.6,1)" text-anchor="end" font-family="'Liberation Sans', Arial, sans-serif" font-weight="bold" font-size="16" stroke="#000" stroke-width="0.7" textLength="42.5" lengthAdjust="spacing">2008</text>
<text transform="translate(420.9,415.2) rotate(-90) scale(0.6,1)" text-anchor="end" font-family="'Liberation Sans', Arial, sans-serif" font-weight="bold" font-size="16" stroke="#000" stroke-width="0.7" textLength="42.5" lengthAdjust="spacing">2009</text>
<text transform="translate(444.5,415.2) rotate(-90) scale(0.6,1)" text-anchor="end" font-family="'Liberation Sans', Arial, sans-serif" font-weight="bold" font-size="16" stroke="#000" stroke-width="0.7" textLength="42.5" lengthAdjust="spacing">2010</text>
<text transform="translate(468.2,415.2) rotate(-90) scale(0.6,1)" text-anchor="end" font-family="'Liberation Sans', Arial, sans-serif" font-weight="bold" font-size="16" stroke="#000" stroke-width="0.7" textLength="42.5" lengthAdjust="spacing">2011</text>
<text transform="translate(491.9,415.2) rotate(-90) scale(0.6,1)" text-anchor="end" font-family="'Liberation Sans', Arial, sans-serif" font-weight="bold" font-size="16" stroke="#000" stroke-width="0.7" textLength="42.5" lengthAdjust="spacing">2012</text>
<text transform="translate(515.6,415.2) rotate(-90) scale(0.6,1)" text-anchor="end" font-family="'Liberation Sans', Arial, sans-serif" font-weight="bold" font-size="16" stroke="#000" stroke-width="0.7" textLength="42.5" lengthAdjust="spacing">2013</text>
<text transform="translate(539.2,415.2) rotate(-90) scale(0.6,1)" text-anchor="end" font-family="'Liberation Sans', Arial, sans-serif" font-weight="bold" font-size="16" stroke="#000" stroke-width="0.7" textLength="42.5" lengthAdjust="spacing">2014</text>
<text transform="translate(562.9,415.2) rotate(-90) scale(0.6,1)" text-anchor="end" font-family="'Liberation Sans', Arial, sans-serif" font-weight="bold" font-size="16" stroke="#000" stroke-width="0.7" textLength="42.5" lengthAdjust="spacing">2015</text>
<text transform="translate(586.6,415.2) rotate(-90) scale(0.6,1)" text-anchor="end" font-family="'Liberation Sans', Arial, sans-serif" font-weight="bold" font-size="16" stroke="#000" stroke-width="0.7" textLength="42.5" lengthAdjust="spacing">2016</text>
<text transform="translate(610.3,415.2) rotate(-90) scale(0.6,1)" text-anchor="end" font-family="'Liberation Sans', Arial, sans-serif" font-weight="bold" font-size="16" stroke="#000" stroke-width="0.7" textLength="42.5" lengthAdjust="spacing">2017</text>
<text transform="translate(633.9,415.2) rotate(-90) scale(0.6,1)" text-anchor="end" font-family="'Liberation Sans', Arial, sans-serif" font-weight="bold" font-size="16" stroke="#000" stroke-width="0.7" textLength="42.5" lengthAdjust="spacing">2018</text>
<text transform="translate(657.6,415.2) rotate(-90) scale(0.6,1)" text-anchor="end" font-family="'Liberation Sans', Arial, sans-serif" font-weight="bold" font-size="16" stroke="#000" stroke-width="0.7" textLength="42.5" lengthAdjust="spacing">2019</text>
<text transform="translate(681.3,415.2) rotate(-90) scale(0.6,1)" text-anchor="end" font-family="'Liberation Sans', Arial, sans-serif" font-weight="bold" font-size="16" stroke="#000" stroke-width="0.7" textLength="42.5" lengthAdjust="spacing">2020</text>
<text transform="translate(705.0,415.2) rotate(-90) scale(0.6,1)" text-anchor="end" font-family="'Liberation Sans', Arial, sans-serif" font-weight="bold" font-size="16" stroke="#000" stroke-width="0.7" textLength="42.5" lengthAdjust="spacing">2021</text>
<text transform="translate(728.6,415.2) rotate(-90) scale(0.6,1)" text-anchor="end" font-family="'Liberation Sans', Arial, sans-serif" font-weight="bold" font-size="16" stroke="#000" stroke-width="0.7" textLength="42.5" lengthAdjust="spacing">2022</text>
<text transform="translate(752.3,415.2) rotate(-90) scale(0.6,1)" text-anchor="end" font-family="'Liberation Sans', Arial, sans-serif" font-weight="bold" font-size="16" stroke="#000" stroke-width="0.7" textLength="42.5" lengthAdjust="spacing">2023</text>
<text transform="translate(776.0,415.2) rotate(-90) scale(0.6,1)" text-anchor="end" font-family="'Liberation Sans', Arial, sans-serif" font-weight="bold" font-size="16" stroke="#000" stroke-width="0.7" textLength="42.5" lengthAdjust="spacing">2024</text>
<text transform="translate(800.2,414) rotate(-90) scale(0.5,1)" text-anchor="end" font-family="'Liberation Sans', Arial, sans-serif" font-weight="bold" font-size="16.5" stroke="#000" stroke-width="0.7" textLength="91.0" lengthAdjust="spacing">Рейтинг</text>
<text x="179.3" y="482" text-anchor="middle" font-family="'Liberation Sans', Arial, sans-serif" font-weight="bold" font-size="14" stroke="#000" stroke-width="0.85" textLength="42" lengthAdjust="spacingAndGlyphs" xml:space="preserve">65+ лет</text>
<text x="226.4" y="482" text-anchor="middle" font-family="'Liberation Sans', Arial, sans-serif" font-weight="bold" font-size="14" stroke="#000" stroke-width="0.85" textLength="13.2" lengthAdjust="spacingAndGlyphs">30</text>
<text x="250.0" y="482" text-anchor="middle" font-family="'Liberation Sans', Arial, sans-serif" font-weight="bold" font-size="14" stroke="#000" stroke-width="0.85" textLength="13.2" lengthAdjust="spacingAndGlyphs">27</text>
<text x="273.7" y="482" text-anchor="middle" font-family="'Liberation Sans', Arial, sans-serif" font-weight="bold" font-size="14" stroke="#000" stroke-width="0.85" textLength="13.2" lengthAdjust="spacingAndGlyphs">33</text>
<text x="297.4" y="482" text-anchor="middle" font-family="'Liberation Sans', Arial, sans-serif" font-weight="bold" font-size="14" stroke="#000" stroke-width="0.85" textLength="13.2" lengthAdjust="spacingAndGlyphs">42</text>
<text x="321.1" y="482" text-anchor="middle" font-family="'Liberation Sans', Arial, sans-serif" font-weight="bold" font-size="14" stroke="#000" stroke-width="0.85" textLength="13.2" lengthAdjust="spacingAndGlyphs">48</text>
<text x="344.7" y="482" text-anchor="middle" font-family="'Liberation Sans', Arial, sans-serif" font-weight="bold" font-size="14" stroke="#000" stroke-width="0.85" textLength="13.2" lengthAdjust="spacingAndGlyphs">25</text>
<text x="368.4" y="482" text-anchor="middle" font-family="'Liberation Sans', Arial, sans-serif" font-weight="bold" font-size="14" stroke="#000" stroke-width="0.85" textLength="6.4" lengthAdjust="spacingAndGlyphs">4</text>
<text x="392.1" y="482" text-anchor="middle" font-family="'Liberation Sans', Arial, sans-serif" font-weight="bold" font-size="14" stroke="#000" stroke-width="0.85" textLength="13.2" lengthAdjust="spacingAndGlyphs">13</text>
<text x="415.8" y="482" text-anchor="middle" font-family="'Liberation Sans', Arial, sans-serif" font-weight="bold" font-size="14" stroke="#000" stroke-width="0.85" textLength="6.4" lengthAdjust="spacingAndGlyphs">3</text>
<text x="439.4" y="482" text-anchor="middle" font-family="'Liberation Sans', Arial, sans-serif" font-weight="bold" font-size="14" stroke="#000" stroke-width="0.85" textLength="6.4" lengthAdjust="spacingAndGlyphs">4</text>
<text x="463.1" y="482" text-anchor="middle" font-family="'Liberation Sans', Arial, sans-serif" font-weight="bold" font-size="14" stroke="#000" stroke-width="0.85" textLength="13.2" lengthAdjust="spacingAndGlyphs">21</text>
<text x="486.8" y="482" text-anchor="middle" font-family="'Liberation Sans', Arial, sans-serif" font-weight="bold" font-size="14" stroke="#000" stroke-width="0.85" textLength="13.2" lengthAdjust="spacingAndGlyphs">24</text>
<text x="510.5" y="482" text-anchor="middle" font-family="'Liberation Sans', Arial, sans-serif" font-weight="bold" font-size="14" stroke="#000" stroke-width="0.85" textLength="13.2" lengthAdjust="spacingAndGlyphs">15</text>
<text x="534.1" y="482" text-anchor="middle" font-family="'Liberation Sans', Arial, sans-serif" font-weight="bold" font-size="14" stroke="#000" stroke-width="0.85" textLength="13.2" lengthAdjust="spacingAndGlyphs">27</text>
<text x="557.8" y="482" text-anchor="middle" font-family="'Liberation Sans', Arial, sans-serif" font-weight="bold" font-size="14" stroke="#000" stroke-width="0.85" textLength="13.2" lengthAdjust="spacingAndGlyphs">29</text>
<text x="581.5" y="482" text-anchor="middle" font-family="'Liberation Sans', Arial, sans-serif" font-weight="bold" font-size="14" stroke="#000" stroke-width="0.85" textLength="13.2" lengthAdjust="spacingAndGlyphs">17</text>
<text x="605.2" y="482" text-anchor="middle" font-family="'Liberation Sans', Arial, sans-serif" font-weight="bold" font-size="14" stroke="#000" stroke-width="0.85" textLength="6.4" lengthAdjust="spacingAndGlyphs">5</text>
<text x="628.8" y="482" text-anchor="middle" font-family="'Liberation Sans', Arial, sans-serif" font-weight="bold" font-size="14" stroke="#000" stroke-width="0.85" textLength="6.4" lengthAdjust="spacingAndGlyphs">2</text>
<text x="652.5" y="482" text-anchor="middle" font-family="'Liberation Sans', Arial, sans-serif" font-weight="bold" font-size="14" stroke="#000" stroke-width="0.85" textLength="6.4" lengthAdjust="spacingAndGlyphs">1</text>
<text x="676.2" y="482" text-anchor="middle" font-family="'Liberation Sans', Arial, sans-serif" font-weight="bold" font-size="14" stroke="#000" stroke-width="0.85" textLength="6.4" lengthAdjust="spacingAndGlyphs">3</text>
<text x="699.9" y="482" text-anchor="middle" font-family="'Liberation Sans', Arial, sans-serif" font-weight="bold" font-size="14" stroke="#000" stroke-width="0.85" textLength="13.2" lengthAdjust="spacingAndGlyphs">17</text>
<text x="723.5" y="482" text-anchor="middle" font-family="'Liberation Sans', Arial, sans-serif" font-weight="bold" font-size="14" stroke="#000" stroke-width="0.85" textLength="13.2" lengthAdjust="spacingAndGlyphs">21</text>
<text x="747.2" y="482" text-anchor="middle" font-family="'Liberation Sans', Arial, sans-serif" font-weight="bold" font-size="14" stroke="#000" stroke-width="0.85" textLength="13.2" lengthAdjust="spacingAndGlyphs">21</text>
<text x="770.9" y="482" text-anchor="middle" font-family="'Liberation Sans', Arial, sans-serif" font-weight="bold" font-size="14" stroke="#000" stroke-width="0.85" textLength="13.2" lengthAdjust="spacingAndGlyphs">26</text>
<text x="794.6" y="482" text-anchor="middle" font-family="'Liberation Sans', Arial, sans-serif" font-weight="bold" font-size="14" stroke="#000" stroke-width="0.85" textLength="6.4" lengthAdjust="spacingAndGlyphs">4</text>
<text x="179.3" y="508" text-anchor="middle" font-family="'Liberation Sans', Arial, sans-serif" font-weight="bold" font-size="14" stroke="#000" stroke-width="0.85" textLength="50.5" lengthAdjust="spacingAndGlyphs" xml:space="preserve">45-64 лет</text>
<text x="226.4" y="508" text-anchor="middle" font-family="'Liberation Sans', Arial, sans-serif" font-weight="bold" font-size="14" stroke="#000" stroke-width="0.85" textLength="6.4" lengthAdjust="spacingAndGlyphs">1</text>
<text x="250.0" y="508" text-anchor="middle" font-family="'Liberation Sans', Arial, sans-serif" font-weight="bold" font-size="14" stroke="#000" stroke-width="0.85" textLength="6.4" lengthAdjust="spacingAndGlyphs">1</text>
<text x="273.7" y="508" text-anchor="middle" font-family="'Liberation Sans', Arial, sans-serif" font-weight="bold" font-size="14" stroke="#000" stroke-width="0.85" textLength="6.4" lengthAdjust="spacingAndGlyphs">1</text>
<text x="297.4" y="508" text-anchor="middle" font-family="'Liberation Sans', Arial, sans-serif" font-weight="bold" font-size="14" stroke="#000" stroke-width="0.85" textLength="6.4" lengthAdjust="spacingAndGlyphs">1</text>
<text x="321.1" y="508" text-anchor="middle" font-family="'Liberation Sans', Arial, sans-serif" font-weight="bold" font-size="14" stroke="#000" stroke-width="0.85" textLength="6.4" lengthAdjust="spacingAndGlyphs">1</text>
<text x="344.7" y="508" text-anchor="middle" font-family="'Liberation Sans', Arial, sans-serif" font-weight="bold" font-size="14" stroke="#000" stroke-width="0.85" textLength="6.4" lengthAdjust="spacingAndGlyphs">1</text>
<text x="368.4" y="508" text-anchor="middle" font-family="'Liberation Sans', Arial, sans-serif" font-weight="bold" font-size="14" stroke="#000" stroke-width="0.85" textLength="6.4" lengthAdjust="spacingAndGlyphs">1</text>
<text x="392.1" y="508" text-anchor="middle" font-family="'Liberation Sans', Arial, sans-serif" font-weight="bold" font-size="14" stroke="#000" stroke-width="0.85" textLength="6.4" lengthAdjust="spacingAndGlyphs">1</text>
<text x="415.8" y="508" text-anchor="middle" font-family="'Liberation Sans', Arial, sans-serif" font-weight="bold" font-size="14" stroke="#000" stroke-width="0.85" textLength="6.4" lengthAdjust="spacingAndGlyphs">1</text>
<text x="439.4" y="508" text-anchor="middle" font-family="'Liberation Sans', Arial, sans-serif" font-weight="bold" font-size="14" stroke="#000" stroke-width="0.85" textLength="6.4" lengthAdjust="spacingAndGlyphs">1</text>
<text x="463.1" y="508" text-anchor="middle" font-family="'Liberation Sans', Arial, sans-serif" font-weight="bold" font-size="14" stroke="#000" stroke-width="0.85" textLength="6.4" lengthAdjust="spacingAndGlyphs">3</text>
<text x="486.8" y="508" text-anchor="middle" font-family="'Liberation Sans', Arial, sans-serif" font-weight="bold" font-size="14" stroke="#000" stroke-width="0.85" textLength="6.4" lengthAdjust="spacingAndGlyphs">3</text>
<text x="510.5" y="508" text-anchor="middle" font-family="'Liberation Sans', Arial, sans-serif" font-weight="bold" font-size="14" stroke="#000" stroke-width="0.85" textLength="6.4" lengthAdjust="spacingAndGlyphs">1</text>
<text x="534.1" y="508" text-anchor="middle" font-family="'Liberation Sans', Arial, sans-serif" font-weight="bold" font-size="14" stroke="#000" stroke-width="0.85" textLength="6.4" lengthAdjust="spacingAndGlyphs">1</text>
<text x="557.8" y="508" text-anchor="middle" font-family="'Liberation Sans', Arial, sans-serif" font-weight="bold" font-size="14" stroke="#000" stroke-width="0.85" textLength="6.4" lengthAdjust="spacingAndGlyphs">1</text>
<text x="581.5" y="508" text-anchor="middle" font-family="'Liberation Sans', Arial, sans-serif" font-weight="bold" font-size="14" stroke="#000" stroke-width="0.85" textLength="6.4" lengthAdjust="spacingAndGlyphs">1</text>
<text x="605.2" y="508" text-anchor="middle" font-family="'Liberation Sans', Arial, sans-serif" font-weight="bold" font-size="14" stroke="#000" stroke-width="0.85" textLength="6.4" lengthAdjust="spacingAndGlyphs">1</text>
<text x="628.8" y="508" text-anchor="middle" font-family="'Liberation Sans', Arial, sans-serif" font-weight="bold" font-size="14" stroke="#000" stroke-width="0.85" textLength="6.4" lengthAdjust="spacingAndGlyphs">1</text>
<text x="652.5" y="508" text-anchor="middle" font-family="'Liberation Sans', Arial, sans-serif" font-weight="bold" font-size="14" stroke="#000" stroke-width="0.85" textLength="6.4" lengthAdjust="spacingAndGlyphs">1</text>
<text x="676.2" y="508" text-anchor="middle" font-family="'Liberation Sans', Arial, sans-serif" font-weight="bold" font-size="14" stroke="#000" stroke-width="0.85" textLength="6.4" lengthAdjust="spacingAndGlyphs">1</text>
<text x="699.9" y="508" text-anchor="middle" font-family="'Liberation Sans', Arial, sans-serif" font-weight="bold" font-size="14" stroke="#000" stroke-width="0.85" textLength="6.4" lengthAdjust="spacingAndGlyphs">1</text>
<text x="723.5" y="508" text-anchor="middle" font-family="'Liberation Sans', Arial, sans-serif" font-weight="bold" font-size="14" stroke="#000" stroke-width="0.85" textLength="6.4" lengthAdjust="spacingAndGlyphs">1</text>
<text x="747.2" y="508" text-anchor="middle" font-family="'Liberation Sans', Arial, sans-serif" font-weight="bold" font-size="14" stroke="#000" stroke-width="0.85" textLength="6.4" lengthAdjust="spacingAndGlyphs">2</text>
<text x="770.9" y="508" text-anchor="middle" font-family="'Liberation Sans', Arial, sans-serif" font-weight="bold" font-size="14" stroke="#000" stroke-width="0.85" textLength="6.4" lengthAdjust="spacingAndGlyphs">2</text>
<text x="794.6" y="508" text-anchor="middle" font-family="'Liberation Sans', Arial, sans-serif" font-weight="bold" font-size="14" stroke="#000" stroke-width="0.85" textLength="13.2" lengthAdjust="spacingAndGlyphs">24</text>
<text x="179.3" y="534.5" text-anchor="middle" font-family="'Liberation Sans', Arial, sans-serif" font-weight="bold" font-size="14" stroke="#000" stroke-width="0.85" textLength="50" lengthAdjust="spacingAndGlyphs" xml:space="preserve">18-44 лет</text>
<text x="226.4" y="534.5" text-anchor="middle" font-family="'Liberation Sans', Arial, sans-serif" font-weight="bold" font-size="14" stroke="#000" stroke-width="0.85" textLength="6.4" lengthAdjust="spacingAndGlyphs">1</text>
<text x="250.0" y="534.5" text-anchor="middle" font-family="'Liberation Sans', Arial, sans-serif" font-weight="bold" font-size="14" stroke="#000" stroke-width="0.85" textLength="6.4" lengthAdjust="spacingAndGlyphs">1</text>
<text x="273.7" y="534.5" text-anchor="middle" font-family="'Liberation Sans', Arial, sans-serif" font-weight="bold" font-size="14" stroke="#000" stroke-width="0.85" textLength="6.4" lengthAdjust="spacingAndGlyphs">1</text>
<text x="297.4" y="534.5" text-anchor="middle" font-family="'Liberation Sans', Arial, sans-serif" font-weight="bold" font-size="14" stroke="#000" stroke-width="0.85" textLength="6.4" lengthAdjust="spacingAndGlyphs">1</text>
<text x="321.1" y="534.5" text-anchor="middle" font-family="'Liberation Sans', Arial, sans-serif" font-weight="bold" font-size="14" stroke="#000" stroke-width="0.85" textLength="6.4" lengthAdjust="spacingAndGlyphs">1</text>
<text x="344.7" y="534.5" text-anchor="middle" font-family="'Liberation Sans', Arial, sans-serif" font-weight="bold" font-size="14" stroke="#000" stroke-width="0.85" textLength="6.4" lengthAdjust="spacingAndGlyphs">1</text>
<text x="368.4" y="534.5" text-anchor="middle" font-family="'Liberation Sans', Arial, sans-serif" font-weight="bold" font-size="14" stroke="#000" stroke-width="0.85" textLength="6.4" lengthAdjust="spacingAndGlyphs">2</text>
<text x="392.1" y="534.5" text-anchor="middle" font-family="'Liberation Sans', Arial, sans-serif" font-weight="bold" font-size="14" stroke="#000" stroke-width="0.85" textLength="6.4" lengthAdjust="spacingAndGlyphs">2</text>
<text x="415.8" y="534.5" text-anchor="middle" font-family="'Liberation Sans', Arial, sans-serif" font-weight="bold" font-size="14" stroke="#000" stroke-width="0.85" textLength="6.4" lengthAdjust="spacingAndGlyphs">1</text>
<text x="439.4" y="534.5" text-anchor="middle" font-family="'Liberation Sans', Arial, sans-serif" font-weight="bold" font-size="14" stroke="#000" stroke-width="0.85" textLength="6.4" lengthAdjust="spacingAndGlyphs">1</text>
<text x="463.1" y="534.5" text-anchor="middle" font-family="'Liberation Sans', Arial, sans-serif" font-weight="bold" font-size="14" stroke="#000" stroke-width="0.85" textLength="6.4" lengthAdjust="spacingAndGlyphs">4</text>
<text x="486.8" y="534.5" text-anchor="middle" font-family="'Liberation Sans', Arial, sans-serif" font-weight="bold" font-size="14" stroke="#000" stroke-width="0.85" textLength="6.4" lengthAdjust="spacingAndGlyphs">4</text>
<text x="510.5" y="534.5" text-anchor="middle" font-family="'Liberation Sans', Arial, sans-serif" font-weight="bold" font-size="14" stroke="#000" stroke-width="0.85" textLength="6.4" lengthAdjust="spacingAndGlyphs">1</text>
<text x="534.1" y="534.5" text-anchor="middle" font-family="'Liberation Sans', Arial, sans-serif" font-weight="bold" font-size="14" stroke="#000" stroke-width="0.85" textLength="6.4" lengthAdjust="spacingAndGlyphs">1</text>
<text x="557.8" y="534.5" text-anchor="middle" font-family="'Liberation Sans', Arial, sans-serif" font-weight="bold" font-size="14" stroke="#000" stroke-width="0.85" textLength="6.4" lengthAdjust="spacingAndGlyphs">1</text>
<text x="581.5" y="534.5" text-anchor="middle" font-family="'Liberation Sans', Arial, sans-serif" font-weight="bold" font-size="14" stroke="#000" stroke-width="0.85" textLength="6.4" lengthAdjust="spacingAndGlyphs">1</text>
<text x="605.2" y="534.5" text-anchor="middle" font-family="'Liberation Sans', Arial, sans-serif" font-weight="bold" font-size="14" stroke="#000" stroke-width="0.85" textLength="6.4" lengthAdjust="spacingAndGlyphs">1</text>
<text x="628.8" y="534.5" text-anchor="middle" font-family="'Liberation Sans', Arial, sans-serif" font-weight="bold" font-size="14" stroke="#000" stroke-width="0.85" textLength="6.4" lengthAdjust="spacingAndGlyphs">1</text>
<text x="652.5" y="534.5" text-anchor="middle" font-family="'Liberation Sans', Arial, sans-serif" font-weight="bold" font-size="14" stroke="#000" stroke-width="0.85" textLength="6.4" lengthAdjust="spacingAndGlyphs">1</text>
<text x="676.2" y="534.5" text-anchor="middle" font-family="'Liberation Sans', Arial, sans-serif" font-weight="bold" font-size="14" stroke="#000" stroke-width="0.85" textLength="6.4" lengthAdjust="spacingAndGlyphs">1</text>
<text x="699.9" y="534.5" text-anchor="middle" font-family="'Liberation Sans', Arial, sans-serif" font-weight="bold" font-size="14" stroke="#000" stroke-width="0.85" textLength="6.4" lengthAdjust="spacingAndGlyphs">1</text>
<text x="723.5" y="534.5" text-anchor="middle" font-family="'Liberation Sans', Arial, sans-serif" font-weight="bold" font-size="14" stroke="#000" stroke-width="0.85" textLength="6.4" lengthAdjust="spacingAndGlyphs">2</text>
<text x="747.2" y="534.5" text-anchor="middle" font-family="'Liberation Sans', Arial, sans-serif" font-weight="bold" font-size="14" stroke="#000" stroke-width="0.85" textLength="6.4" lengthAdjust="spacingAndGlyphs">7</text>
<text x="770.9" y="534.5" text-anchor="middle" font-family="'Liberation Sans', Arial, sans-serif" font-weight="bold" font-size="14" stroke="#000" stroke-width="0.85" textLength="6.4" lengthAdjust="spacingAndGlyphs">4</text>
<text x="794.6" y="534.5" text-anchor="middle" font-family="'Liberation Sans', Arial, sans-serif" font-weight="bold" font-size="14" stroke="#000" stroke-width="0.85" textLength="13.2" lengthAdjust="spacingAndGlyphs">20</text>
<text x="179.3" y="561" text-anchor="middle" font-family="'Liberation Sans', Arial, sans-serif" font-weight="bold" font-size="14" stroke="#000" stroke-width="0.85" textLength="52" lengthAdjust="spacingAndGlyphs" xml:space="preserve">.7-17  лет</text>
<text x="226.4" y="561" text-anchor="middle" font-family="'Liberation Sans', Arial, sans-serif" font-weight="bold" font-size="14" stroke="#000" stroke-width="0.85" textLength="6.4" lengthAdjust="spacingAndGlyphs">2</text>
<text x="250.0" y="561" text-anchor="middle" font-family="'Liberation Sans', Arial, sans-serif" font-weight="bold" font-size="14" stroke="#000" stroke-width="0.85" textLength="6.4" lengthAdjust="spacingAndGlyphs">2</text>
<text x="273.7" y="561" text-anchor="middle" font-family="'Liberation Sans', Arial, sans-serif" font-weight="bold" font-size="14" stroke="#000" stroke-width="0.85" textLength="6.4" lengthAdjust="spacingAndGlyphs">2</text>
<text x="297.4" y="561" text-anchor="middle" font-family="'Liberation Sans', Arial, sans-serif" font-weight="bold" font-size="14" stroke="#000" stroke-width="0.85" textLength="13.2" lengthAdjust="spacingAndGlyphs">12</text>
<text x="321.1" y="561" text-anchor="middle" font-family="'Liberation Sans', Arial, sans-serif" font-weight="bold" font-size="14" stroke="#000" stroke-width="0.85" textLength="13.2" lengthAdjust="spacingAndGlyphs">21</text>
<text x="344.7" y="561" text-anchor="middle" font-family="'Liberation Sans', Arial, sans-serif" font-weight="bold" font-size="14" stroke="#000" stroke-width="0.85" textLength="13.2" lengthAdjust="spacingAndGlyphs">29</text>
<text x="368.4" y="561" text-anchor="middle" font-family="'Liberation Sans', Arial, sans-serif" font-weight="bold" font-size="14" stroke="#000" stroke-width="0.85" textLength="13.2" lengthAdjust="spacingAndGlyphs">37</text>
<text x="392.1" y="561" text-anchor="middle" font-family="'Liberation Sans', Arial, sans-serif" font-weight="bold" font-size="14" stroke="#000" stroke-width="0.85" textLength="6.4" lengthAdjust="spacingAndGlyphs">3</text>
<text x="415.8" y="561" text-anchor="middle" font-family="'Liberation Sans', Arial, sans-serif" font-weight="bold" font-size="14" stroke="#000" stroke-width="0.85" textLength="6.4" lengthAdjust="spacingAndGlyphs">5</text>
<text x="439.4" y="561" text-anchor="middle" font-family="'Liberation Sans', Arial, sans-serif" font-weight="bold" font-size="14" stroke="#000" stroke-width="0.85" textLength="13.2" lengthAdjust="spacingAndGlyphs">22</text>
<text x="463.1" y="561" text-anchor="middle" font-family="'Liberation Sans', Arial, sans-serif" font-weight="bold" font-size="14" stroke="#000" stroke-width="0.85" textLength="13.2" lengthAdjust="spacingAndGlyphs">44</text>
<text x="486.8" y="561" text-anchor="middle" font-family="'Liberation Sans', Arial, sans-serif" font-weight="bold" font-size="14" stroke="#000" stroke-width="0.85" textLength="13.2" lengthAdjust="spacingAndGlyphs">17</text>
<text x="510.5" y="561" text-anchor="middle" font-family="'Liberation Sans', Arial, sans-serif" font-weight="bold" font-size="14" stroke="#000" stroke-width="0.85" textLength="13.2" lengthAdjust="spacingAndGlyphs">32</text>
<text x="534.1" y="561" text-anchor="middle" font-family="'Liberation Sans', Arial, sans-serif" font-weight="bold" font-size="14" stroke="#000" stroke-width="0.85" textLength="13.2" lengthAdjust="spacingAndGlyphs">23</text>
<text x="557.8" y="561" text-anchor="middle" font-family="'Liberation Sans', Arial, sans-serif" font-weight="bold" font-size="14" stroke="#000" stroke-width="0.85" textLength="13.2" lengthAdjust="spacingAndGlyphs">19</text>
<text x="581.5" y="561" text-anchor="middle" font-family="'Liberation Sans', Arial, sans-serif" font-weight="bold" font-size="14" stroke="#000" stroke-width="0.85" textLength="6.4" lengthAdjust="spacingAndGlyphs">8</text>
<text x="605.2" y="561" text-anchor="middle" font-family="'Liberation Sans', Arial, sans-serif" font-weight="bold" font-size="14" stroke="#000" stroke-width="0.85" textLength="6.4" lengthAdjust="spacingAndGlyphs">8</text>
<text x="628.8" y="561" text-anchor="middle" font-family="'Liberation Sans', Arial, sans-serif" font-weight="bold" font-size="14" stroke="#000" stroke-width="0.85" textLength="13.2" lengthAdjust="spacingAndGlyphs">13</text>
<text x="652.5" y="561" text-anchor="middle" font-family="'Liberation Sans', Arial, sans-serif" font-weight="bold" font-size="14" stroke="#000" stroke-width="0.85" textLength="6.4" lengthAdjust="spacingAndGlyphs">8</text>
<text x="676.2" y="561" text-anchor="middle" font-family="'Liberation Sans', Arial, sans-serif" font-weight="bold" font-size="14" stroke="#000" stroke-width="0.85" textLength="13.2" lengthAdjust="spacingAndGlyphs">27</text>
<text x="699.9" y="561" text-anchor="middle" font-family="'Liberation Sans', Arial, sans-serif" font-weight="bold" font-size="14" stroke="#000" stroke-width="0.85" textLength="6.4" lengthAdjust="spacingAndGlyphs">9</text>
<text x="723.5" y="561" text-anchor="middle" font-family="'Liberation Sans', Arial, sans-serif" font-weight="bold" font-size="14" stroke="#000" stroke-width="0.85" textLength="6.4" lengthAdjust="spacingAndGlyphs">6</text>
<text x="747.2" y="561" text-anchor="middle" font-family="'Liberation Sans', Arial, sans-serif" font-weight="bold" font-size="14" stroke="#000" stroke-width="0.85" textLength="13.2" lengthAdjust="spacingAndGlyphs">22</text>
<text x="770.9" y="561" text-anchor="middle" font-family="'Liberation Sans', Arial, sans-serif" font-weight="bold" font-size="14" stroke="#000" stroke-width="0.85" textLength="13.2" lengthAdjust="spacingAndGlyphs">18</text>
<text x="794.6" y="561" text-anchor="middle" font-family="'Liberation Sans', Arial, sans-serif" font-weight="bold" font-size="14" stroke="#000" stroke-width="0.85" textLength="6.4" lengthAdjust="spacingAndGlyphs">4</text>
<text x="333.9" y="586.7" text-anchor="middle" font-family="'Liberation Sans', Arial, sans-serif" font-weight="bold" font-size="14" stroke="#000" stroke-width="0.85" textLength="42" lengthAdjust="spacingAndGlyphs">.0-6 лет</text>
<text x="534.1" y="586.7" text-anchor="middle" font-family="'Liberation Sans', Arial, sans-serif" font-weight="bold" font-size="14" stroke="#000" stroke-width="0.85" textLength="13.2" lengthAdjust="spacingAndGlyphs">23</text>
<text x="557.8" y="586.7" text-anchor="middle" font-family="'Liberation Sans', Arial, sans-serif" font-weight="bold" font-size="14" stroke="#000" stroke-width="0.85" textLength="13.2" lengthAdjust="spacingAndGlyphs">33</text>
<text x="581.5" y="586.7" text-anchor="middle" font-family="'Liberation Sans', Arial, sans-serif" font-weight="bold" font-size="14" stroke="#000" stroke-width="0.85" textLength="13.2" lengthAdjust="spacingAndGlyphs">15</text>
<text x="605.2" y="586.7" text-anchor="middle" font-family="'Liberation Sans', Arial, sans-serif" font-weight="bold" font-size="14" stroke="#000" stroke-width="0.85" textLength="13.2" lengthAdjust="spacingAndGlyphs">29</text>
<text x="628.8" y="586.7" text-anchor="middle" font-family="'Liberation Sans', Arial, sans-serif" font-weight="bold" font-size="14" stroke="#000" stroke-width="0.85" textLength="13.2" lengthAdjust="spacingAndGlyphs">11</text>
<text x="652.5" y="586.7" text-anchor="middle" font-family="'Liberation Sans', Arial, sans-serif" font-weight="bold" font-size="14" stroke="#000" stroke-width="0.85" textLength="13.2" lengthAdjust="spacingAndGlyphs">46</text>
<text x="676.2" y="586.7" text-anchor="middle" font-family="'Liberation Sans', Arial, sans-serif" font-weight="bold" font-size="14" stroke="#000" stroke-width="0.85" textLength="13.2" lengthAdjust="spacingAndGlyphs">13</text>
<text x="699.9" y="586.7" text-anchor="middle" font-family="'Liberation Sans', Arial, sans-serif" font-weight="bold" font-size="14" stroke="#000" stroke-width="0.85" textLength="13.2" lengthAdjust="spacingAndGlyphs">12</text>
<text x="723.5" y="586.7" text-anchor="middle" font-family="'Liberation Sans', Arial, sans-serif" font-weight="bold" font-size="14" stroke="#000" stroke-width="0.85" textLength="13.2" lengthAdjust="spacingAndGlyphs">40</text>
<text x="747.2" y="586.7" text-anchor="middle" font-family="'Liberation Sans', Arial, sans-serif" font-weight="bold" font-size="14" stroke="#000" stroke-width="0.85" textLength="13.2" lengthAdjust="spacingAndGlyphs">11</text>
<text x="770.9" y="586.7" text-anchor="middle" font-family="'Liberation Sans', Arial, sans-serif" font-weight="bold" font-size="14" stroke="#000" stroke-width="0.85" textLength="13.2" lengthAdjust="spacingAndGlyphs">37</text>
<text x="794.6" y="586.7" text-anchor="middle" font-family="'Liberation Sans', Arial, sans-serif" font-weight="bold" font-size="14" stroke="#000" stroke-width="0.85" textLength="6.4" lengthAdjust="spacingAndGlyphs">0</text>
<text x="211.5" y="608.7" font-family="'Liberation Serif', 'Times New Roman', serif" font-weight="bold" font-style="italic" font-size="15" fill="#0000b4" stroke="#000040" stroke-width="0.45" textLength="524" lengthAdjust="spacingAndGlyphs">Диаграмма 3. Заболеваемость жителей Visagnys злокачественными образованиями.</text>
<rect x="221.5" y="83.5" width="506" height="21" fill="#fff" stroke="#000" stroke-width="1.1"/><line x1="226" y1="94.5" x2="255" y2="94.5" stroke="#000080" stroke-width="1.2"/><polygon points="240.5,90.5 244.5,94.5 240.5,98.5 236.5,94.5" fill="#000080"/><text x="258" y="98.9" font-family="'Liberation Sans', Arial, sans-serif" font-size="14" textLength="40" lengthAdjust="spacingAndGlyphs" xml:space="preserve">.0-6 лет</text><line x1="304" y1="94.5" x2="333.5" y2="94.5" stroke="#0000ff" stroke-width="1.2"/><rect x="314.2" y="90.8" width="7.5" height="7.5" fill="#000"/><text x="336.5" y="98.9" font-family="'Liberation Sans', Arial, sans-serif" font-size="14" textLength="50" lengthAdjust="spacingAndGlyphs" xml:space="preserve">.7-17  лет</text><line x1="391" y1="94.5" x2="422.5" y2="94.5" stroke="#0000ff" stroke-width="3"/><polygon points="407.0,91.0 410.5,98.0 403.5,98.0" fill="#ffff00" stroke="#0000ff" stroke-width="1"/><text x="425" y="98.9" font-family="'Liberation Sans', Arial, sans-serif" font-size="14" textLength="50" lengthAdjust="spacingAndGlyphs" xml:space="preserve">18-44 лет</text><line x1="479" y1="94.0" x2="510.5" y2="94.0" stroke="#ff0000" stroke-width="3"/><rect x="490" y="89" width="10" height="11" fill="#ff0000"/><text x="513" y="98.9" font-family="'Liberation Sans', Arial, sans-serif" font-size="14" textLength="48" lengthAdjust="spacingAndGlyphs" xml:space="preserve">45-64 лет</text><line x1="566" y1="94.0" x2="597.5" y2="94.0" stroke="#00ff00" stroke-width="3"/><rect x="577" y="89" width="10" height="11" fill="#00ff00"/><text x="599" y="98.9" font-family="'Liberation Sans', Arial, sans-serif" font-size="14" textLength="40.5" lengthAdjust="spacingAndGlyphs" xml:space="preserve">65+ лет</text><line x1="646" y1="94.5" x2="675" y2="94.5" stroke="#800000" stroke-width="1.2"/><circle cx="660" cy="94.5" r="3.3" fill="#800000"/><text x="679" y="98.9" font-family="'Liberation Sans', Arial, sans-serif" font-size="14" textLength="43.5" lengthAdjust="spacingAndGlyphs" xml:space="preserve">C00-D48</text>
</svg>
</body></html>
